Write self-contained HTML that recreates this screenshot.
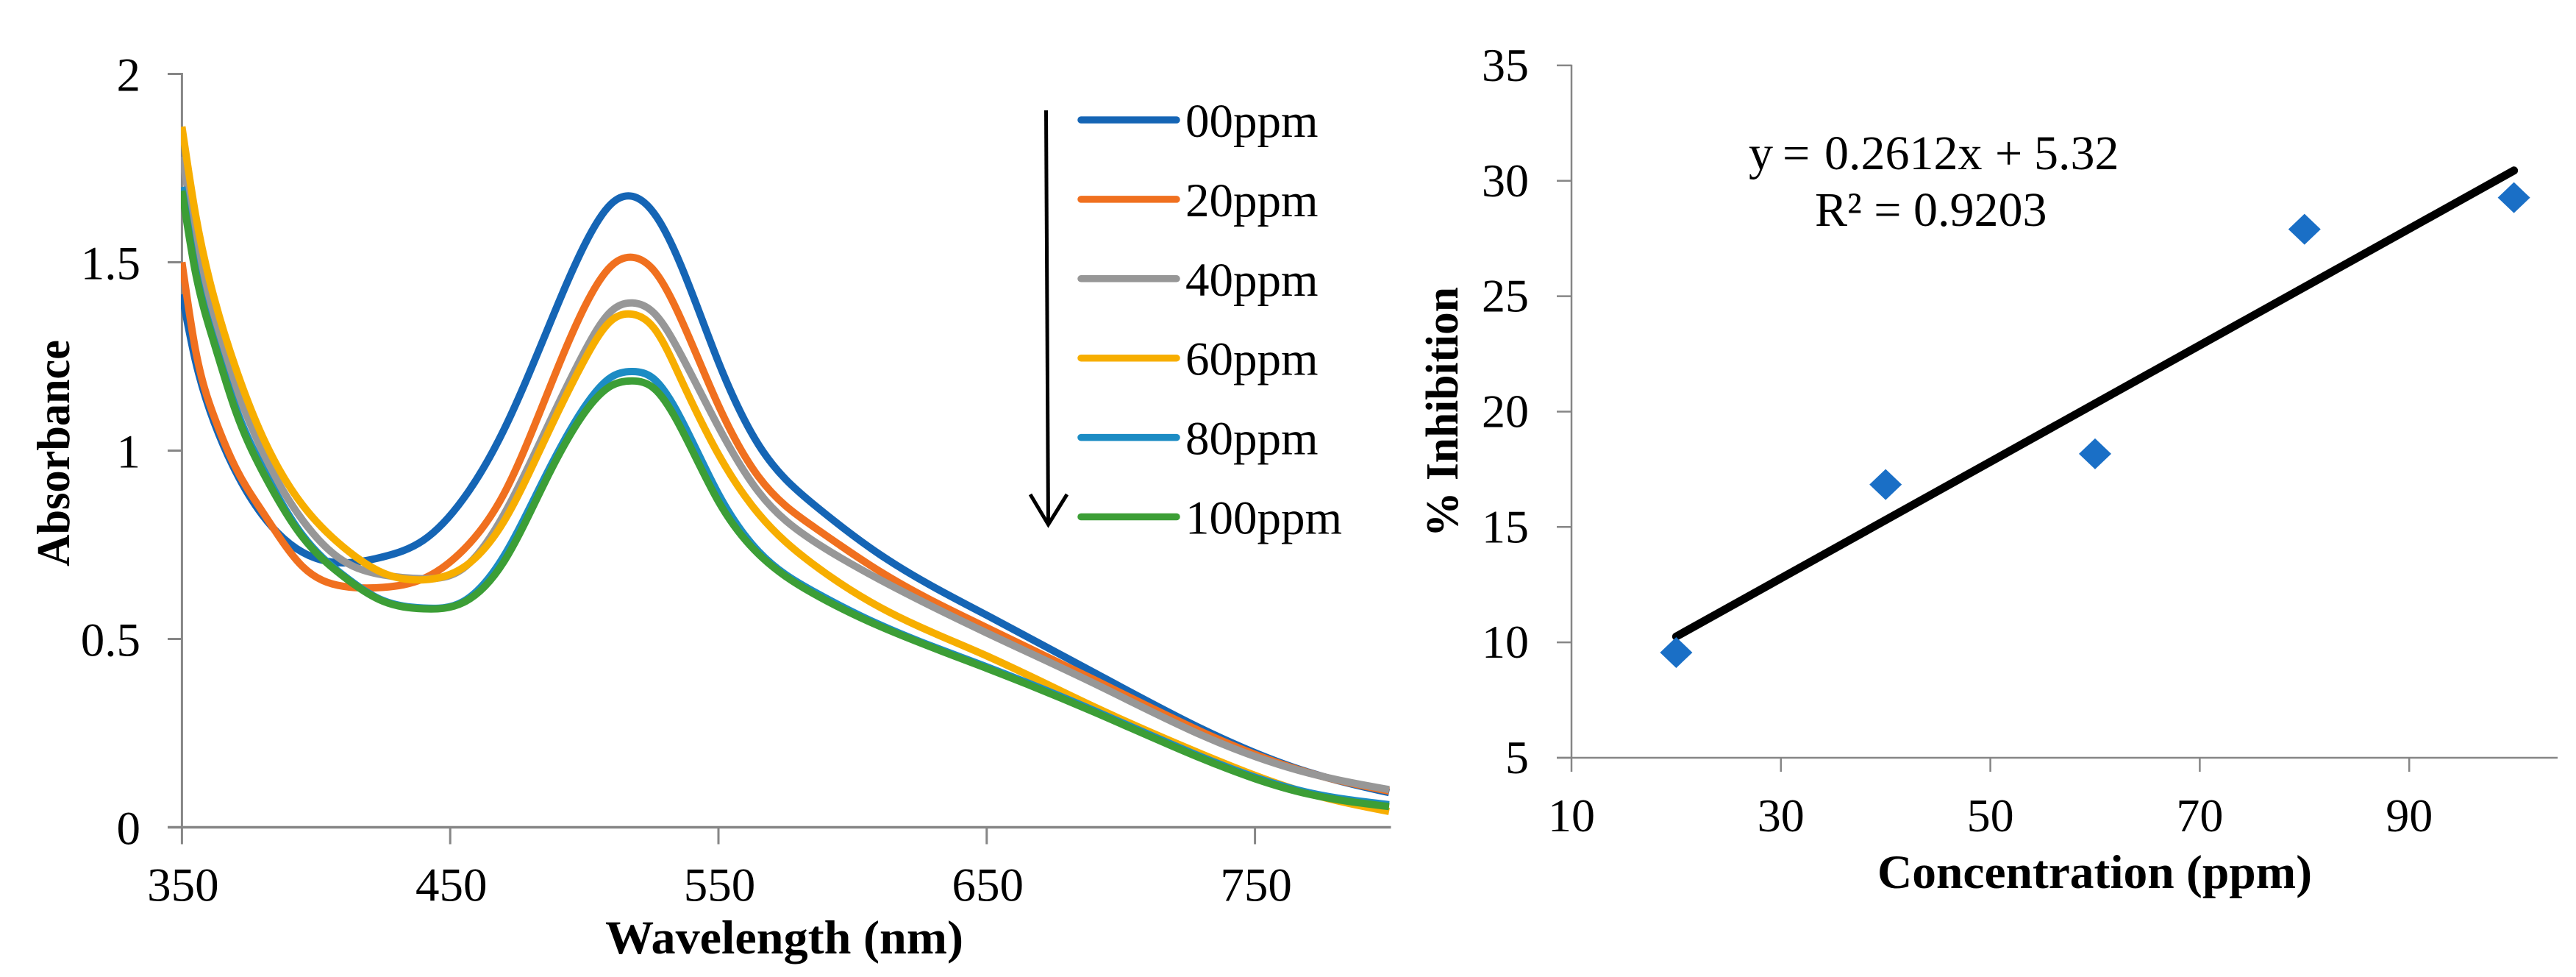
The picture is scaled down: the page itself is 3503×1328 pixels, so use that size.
<!DOCTYPE html>
<html lang="en">
<head>
<meta charset="utf-8">
<title>Absorbance spectra and percent inhibition</title>
<style>
html,body{margin:0;padding:0;background:#fff;}
svg{display:block;font-family:"Liberation Serif","Times New Roman",serif;fill:#000;}
</style>
</head>
<body>
<svg id="figure" xmlns="http://www.w3.org/2000/svg" width="3503" height="1328" viewBox="0 0 3503 1328">
  <defs><clipPath id="plot-clip"><rect x="246" y="90" width="1645.5" height="1040"/></clipPath></defs>
  <rect x="0" y="0" width="3503" height="1328" fill="#fff"/>
  <g id="left-chart">
    <g id="left-axes"></g>
    <g id="left-curves" clip-path="url(#plot-clip)" fill="none"></g>
    <g id="left-legend"></g>
    <text x="823" y="1296" font-size="65" font-weight="bold" textLength="487" lengthAdjust="spacingAndGlyphs">Wavelength (nm)</text>
    <text transform="translate(94,770) rotate(-90)" font-size="64" font-weight="bold" textLength="308" lengthAdjust="spacingAndGlyphs">Absorbance</text>
    <g fill="none" stroke="#000" stroke-width="5">
      <line x1="1422.5" y1="150" x2="1425.5" y2="712"/>
      <polyline points="1401,672 1425.5,713 1451,672"/>
    </g>
  </g>
  <g id="right-chart">
    <g id="right-axes"></g>
    <g id="right-marks"></g>
    <text y="230" font-size="66"><tspan x="2378">y</tspan><tspan x="2424">=</tspan><tspan x="2481">0.2612x</tspan><tspan x="2713">+</tspan><tspan x="2766">5.32</tspan></text>
    <text x="2468" y="307" font-size="66">R² = 0.9203</text>
    <text x="2553" y="1207" font-size="65" font-weight="bold" textLength="591" lengthAdjust="spacingAndGlyphs">Concentration (ppm)</text>
    <text transform="translate(1982,730) rotate(-90)" font-size="62" font-weight="bold" textLength="340" lengthAdjust="spacingAndGlyphs">% Inhibition</text>
  </g>
</svg>
<script>
/* ---------- left chart data ---------- */
const seriesNames = ['00ppm', '20ppm', '40ppm', '60ppm', '80ppm', '100ppm'];
const wavelengthTicks = [350, 450, 550, 650, 750];
const absorbanceTicks = [0, 0.5, 1, 1.5, 2];
const wavelengths = [350,355,362,370,380,395,410,425,440,455,470,485,500,510,518,526,536,550,565,585,610,650,690,730,770,800];

const abs00  = [1.415,1.24,1.075,0.945,0.829,0.73,0.702,0.718,0.762,0.873,1.055,1.3,1.545,1.655,1.675,1.63,1.492,1.235,1.015,0.86,0.725,0.563,0.411,0.262,0.146,0.092];
const abs20  = [1.5,1.27,1.09,0.955,0.838,0.692,0.64,0.637,0.66,0.737,0.885,1.13,1.38,1.49,1.513,1.478,1.35,1.12,0.93,0.8,0.68,0.53,0.392,0.254,0.145,0.096];
const abs40  = [1.78,1.58,1.343,1.168,0.998,0.815,0.708,0.67,0.66,0.688,0.83,1.045,1.262,1.37,1.392,1.365,1.255,1.063,0.89,0.762,0.658,0.516,0.382,0.245,0.144,0.1];
const abs60  = [1.86,1.63,1.405,1.22,1.038,0.855,0.745,0.675,0.657,0.69,0.812,1.025,1.24,1.345,1.362,1.325,1.19,0.99,0.832,0.7,0.585,0.455,0.32,0.195,0.09,0.042];
const abs80  = [1.7,1.485,1.292,1.115,0.955,0.775,0.67,0.602,0.582,0.6,0.72,0.925,1.115,1.195,1.21,1.19,1.085,0.885,0.732,0.628,0.538,0.426,0.31,0.187,0.092,0.06];
const abs100 = [1.69,1.475,1.285,1.105,0.945,0.77,0.667,0.6,0.58,0.597,0.705,0.912,1.1,1.172,1.185,1.165,1.06,0.865,0.725,0.622,0.534,0.422,0.306,0.183,0.088,0.055];

/* ---------- right chart data ---------- */
const concentrations = [20, 40, 60, 80, 100];
const inhibition = [9.56, 16.84, 18.17, 27.9, 29.27];
const concentrationTicks = [10, 30, 50, 70, 90];
const inhibitionTicks = [5, 10, 15, 20, 25, 30, 35];

/* ---------- axis functions ---------- */
function xL(w) { return 247.4 + (w - 350) * 3.648; }
function yL(v) { return 1124.5 - v * 512; }
function xR(c) { return 2137 + (c - 10) * 14.24; }
function yR(p) { return 1030 - (p - 5) * 31.37; }

const SVGNS = 'http://www.w3.org/2000/svg';
function mk(parent, tag, attrs, text) {
  const el = document.createElementNS(SVGNS, tag);
  for (const k in attrs) el.setAttribute(k, attrs[k]);
  if (text !== undefined) el.textContent = text;
  parent.appendChild(el);
  return el;
}

/* natural cubic spline (C2) written as bezier segments */
function smoothPath(xs, ys) {
  const px = xs.map(xL), py = ys.map(yL), n = px.length;
  const h = [];
  for (let i = 0; i < n - 1; i++) h.push(px[i + 1] - px[i]);
  const c = new Array(n).fill(0), z = new Array(n).fill(0), m = new Array(n).fill(0);
  for (let i = 1; i < n - 1; i++) {
    const rhs = 6 * ((py[i + 1] - py[i]) / h[i] - (py[i] - py[i - 1]) / h[i - 1]);
    const piv = 2 * (h[i - 1] + h[i]) - h[i - 1] * c[i - 1];
    c[i] = h[i] / piv;
    z[i] = (rhs - h[i - 1] * z[i - 1]) / piv;
  }
  for (let i = n - 2; i > 0; i--) m[i] = z[i] - c[i] * m[i + 1];
  let d = 'M' + px[0].toFixed(1) + ' ' + py[0].toFixed(1);
  for (let i = 0; i < n - 1; i++) {
    const sec = (py[i + 1] - py[i]) / h[i];
    const d0 = sec - h[i] * (2 * m[i] + m[i + 1]) / 6;
    const d1 = sec + h[i] * (m[i] + 2 * m[i + 1]) / 6;
    d += ' C' + (px[i] + h[i] / 3).toFixed(1) + ' ' + (py[i] + d0 * h[i] / 3).toFixed(1) +
         ' ' + (px[i + 1] - h[i] / 3).toFixed(1) + ' ' + (py[i + 1] - d1 * h[i] / 3).toFixed(1) +
         ' ' + px[i + 1].toFixed(1) + ' ' + py[i + 1].toFixed(1);
  }
  return d;
}

const AXIS = '#868686';
const FS_L = 65, FS_R = 64;

/* ---------- left axes ---------- */
const la = document.getElementById('left-axes');
const lAxisY = mk(la, 'line', {x1: xL(350), y1: yL(2) - 1.5, x2: xL(350), y2: yL(0), stroke: AXIS, 'stroke-width': 3});


const lAxisX = mk(la, 'line', {x1: 228, y1: yL(0), x2: 1891.5, y2: yL(0), stroke: AXIS, 'stroke-width': 3.5});


absorbanceTicks.forEach(v => {
  const t = mk(la, 'line', {x1: 228, y1: yL(v), x2: xL(350), y2: yL(v), stroke: AXIS, 'stroke-width': 3});
  
  
  const l = mk(la, 'text', {x: 191, y: yL(v) + 23, 'font-size': FS_L, 'text-anchor': 'end'}, String(v));
  
  
});
wavelengthTicks.forEach(w => {
  const t = mk(la, 'line', {x1: xL(w), y1: yL(0), x2: xL(w), y2: yL(0) + 23, stroke: AXIS, 'stroke-width': 3});
  
  
  const l = mk(la, 'text', {x: xL(w) + 1.5, y: yL(0) + 100, 'font-size': FS_L, 'text-anchor': 'middle'}, String(w));
  
  
});

/* ---------- curves + legend ---------- */
const seriesColors = ['#1565B5', '#F0701F', '#979797', '#F7AE00', '#1C8CC4', '#3C9E36'];
const seriesY = [abs00, abs20, abs40, abs60, abs80, abs100];
const lc = document.getElementById('left-curves');
const lg = document.getElementById('left-legend');
seriesNames.forEach((name, i) => {
  const p = mk(lc, 'path', {d: smoothPath(wavelengths, seriesY[i]), stroke: seriesColors[i], 'stroke-width': 10, 'stroke-linejoin': 'round', fill: 'none'});
  
  
  const ly = 163 + i * 107.9;
  const sw = mk(lg, 'line', {x1: 1470, y1: ly, x2: 1600, y2: ly, stroke: seriesColors[i], 'stroke-width': 9.5, 'stroke-linecap': 'round'});
  
  
  const tx = mk(lg, 'text', {x: 1612, y: ly + 23, 'font-size': 65}, name);
  
  
});

/* ---------- right axes ---------- */
const ra = document.getElementById('right-axes');
const rAxisY = mk(ra, 'line', {x1: xR(10), y1: yR(35) - 1, x2: xR(10), y2: yR(5), stroke: AXIS, 'stroke-width': 2.5});


const rAxisX = mk(ra, 'line', {x1: xR(10) - 20, y1: yR(5), x2: 3478, y2: yR(5), stroke: AXIS, 'stroke-width': 2.5});


inhibitionTicks.forEach(p => {
  const t = mk(ra, 'line', {x1: xR(10) - 20, y1: yR(p), x2: xR(10), y2: yR(p), stroke: AXIS, 'stroke-width': 2.5});
  
  
  const l = mk(ra, 'text', {x: 2079, y: yR(p) + 21, 'font-size': FS_R, 'text-anchor': 'end'}, String(p));
  
  
});
concentrationTicks.forEach(c => {
  const t = mk(ra, 'line', {x1: xR(c), y1: yR(5), x2: xR(c), y2: yR(5) + 19, stroke: AXIS, 'stroke-width': 2.5});
  
  
  const l = mk(ra, 'text', {x: xR(c), y: 1130, 'font-size': FS_R, 'text-anchor': 'middle'}, String(c));
  
  
});

/* ---------- trendline + markers ---------- */
const rm = document.getElementById('right-marks');
const n = concentrations.length;
const mx = concentrations.reduce((a, b) => a + b, 0) / n;
const my = inhibition.reduce((a, b) => a + b, 0) / n;
let sxy = 0, sxx = 0;
concentrations.forEach((c, i) => { sxy += (c - mx) * (inhibition[i] - my); sxx += (c - mx) * (c - mx); });
const slope = sxy / sxx, icpt = my - slope * mx;
const xFirst = concentrations[0], xLast = concentrations[n - 1];
const trend = mk(rm, 'line', {x1: xR(xFirst), y1: yR(slope * xFirst + icpt), x2: xR(xLast), y2: yR(slope * xLast + icpt), stroke: '#000', 'stroke-width': 11, 'stroke-linecap': 'round'});


concentrations.forEach((c, i) => {
  const cx = xR(c), cy = yR(inhibition[i]);
  const d = mk(rm, 'polygon', {points: (cx - 22) + ',' + cy + ' ' + cx + ',' + (cy - 21) + ' ' + (cx + 22) + ',' + cy + ' ' + cx + ',' + (cy + 21), fill: '#1A6FC6'});
  
  
});
</script>
</body>
</html>
